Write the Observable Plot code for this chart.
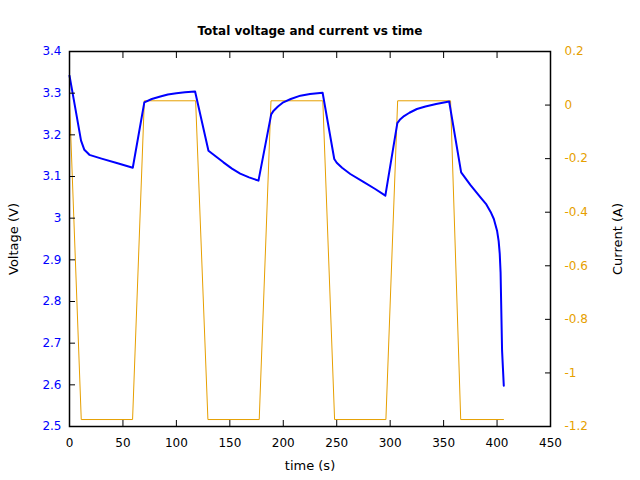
<!DOCTYPE html>
<html>
<head>
<meta charset="utf-8">
<script src="https://cdn.jsdelivr.net/npm/d3@7"></script>
<script src="https://cdn.jsdelivr.net/npm/@observablehq/plot@0.6"></script>
<style>
  html, body { margin: 0; padding: 0; background: #fff; }
  svg { display: block; }
</style>
</head>
<body>
<div id="chart"></div>
<script>
const titleText = "Total voltage and current vs time";
const xLabel = "time (s)";
const yLabelLeft = "Voltage (V)";
const yLabelRight = "Current (A)";

const voltageTime = [0, 5, 10.8, 13.9, 18.6, 30, 45, 59.2,
  70, 77, 85, 92, 100, 108, 117.5,
  130, 137, 144, 152, 159.7, 168, 176.8,
  188.7, 191, 195, 200, 207, 216, 225, 236.8,
  247.7, 250, 255, 262.7, 275, 286, 295.5,
  306.7, 309, 313, 318, 325, 333, 343, 355.2,
  366.4, 375, 384.5, 390, 394, 397, 400, 401.5, 402.5, 403.3, 403.8, 404.7, 405.5, 406.3];
const voltageValue = [3.342, 3.27, 3.186, 3.164, 3.152, 3.143, 3.132, 3.121,
  3.278, 3.286, 3.292, 3.297, 3.300, 3.302, 3.304,
  3.162, 3.148, 3.134, 3.119, 3.107, 3.098, 3.090,
  3.249, 3.258, 3.268, 3.278, 3.286, 3.294, 3.298, 3.301,
  3.142, 3.133, 3.121, 3.106, 3.087, 3.070, 3.054,
  3.228, 3.236, 3.245, 3.253, 3.262, 3.268, 3.274, 3.280,
  3.110, 3.080, 3.050, 3.033, 3.015, 2.998, 2.970, 2.945, 2.915, 2.870, 2.802, 2.682, 2.640, 2.598];

const currentTime = [0, 11, 59, 70, 118, 129.5, 177.5, 188.5, 237, 248, 296, 307, 356.5, 366, 406];
const currentValue = [0.016, -1.174, -1.174, 0.016, 0.016, -1.174, -1.174, 0.016, 0.016, -1.174, -1.174, 0.016, 0.016, -1.174, -1.174];

const xTicks = [0, 50, 100, 150, 200, 250, 300, 350, 400, 450];
const voltageTicks = [2.5, 2.6, 2.7, 2.8, 2.9, 3.0, 3.1, 3.2, 3.3, 3.4];
const currentTicks = [-1.2, -1, -0.8, -0.6, -0.4, -0.2, 0, 0.2];

const vMin = 2.5, vMax = 3.4, iMin = -1.2, iMax = 0.2;
const iToV = i => vMin + (i - iMin) * (vMax - vMin) / (iMax - iMin);
const vToI = v => iMin + (v - vMin) * (iMax - iMin) / (vMax - vMin);

const voltage = voltageTime.map((t, k) => ({t, v: voltageValue[k]}));
const current = currentTime.map((t, k) => ({t, v: iToV(currentValue[k])}));
const currentTickPos = currentTicks.map(iToV);

const BLUE = "#0000ff";
const ORANGE = "#e69f00";
const FONT = "DejaVu Sans";

const fmtI = v => String(Math.round(vToI(v) * 10) / 10);
const fmtV = v => String(Math.round(v * 10) / 10);

const chart = Plot.plot({
  width: 640,
  height: 480,
  marginLeft: 69,
  marginRight: 90,
  marginTop: 51,
  marginBottom: 54,
  style: {fontFamily: FONT, fontSize: "12px", background: "#fff", overflow: "visible"},
  x: {domain: [0, 450]},
  y: {domain: [vMin, vMax]},
  marks: [
    Plot.line(current, {x: "t", y: "v", stroke: ORANGE, strokeWidth: 1}),
    Plot.line(voltage, {x: "t", y: "v", stroke: BLUE, strokeWidth: 2}),
    Plot.frame({stroke: "#000", strokeWidth: 1.5}),
    // bottom x axis
    Plot.axisX({anchor: "bottom", ticks: xTicks, tickSize: 0, tickPadding: 12, label: null, fill: "#000", fontSize: 12}),
    Plot.axisX({anchor: "bottom", ticks: xTicks, tickSize: -6, fill: "none", label: null, stroke: "#000"}),
    Plot.axisX({anchor: "top", ticks: xTicks, tickSize: -6, fill: "none", label: null, stroke: "#000"}),
    // left voltage axis
    Plot.axisY({anchor: "left", ticks: voltageTicks, tickFormat: fmtV, tickSize: 0, tickPadding: 8, label: null, fill: BLUE, fontSize: 12}),
    Plot.axisY({anchor: "left", ticks: voltageTicks, tickSize: -6, fill: "none", label: null, stroke: "#000"}),
    // right current axis
    Plot.axisY({anchor: "right", ticks: currentTickPos, tickFormat: fmtI, tickSize: 0, tickPadding: 14, label: null, fill: ORANGE, fontSize: 12}),
    Plot.axisY({anchor: "right", ticks: currentTickPos, tickSize: -6, fill: "none", label: null, stroke: "#000"}),
    // titles
    Plot.text([titleText], {text: d => d, frameAnchor: "top", dy: -25, fontWeight: "bold", fontSize: 12, fill: "#000"}),
    Plot.text([xLabel], {text: d => d, frameAnchor: "bottom", dy: 43, fontSize: 13, fill: "#000"}),
    Plot.text([yLabelLeft], {text: d => d, frameAnchor: "left", dx: -56, rotate: -90, textAnchor: "middle", fontSize: 13, fill: "#000"}),
    Plot.text([yLabelRight], {text: d => d, frameAnchor: "right", dx: 67, rotate: -90, textAnchor: "middle", fontSize: 13, fill: "#000"})
  ]
});
document.getElementById("chart").appendChild(chart);
</script>
</body>
</html>
